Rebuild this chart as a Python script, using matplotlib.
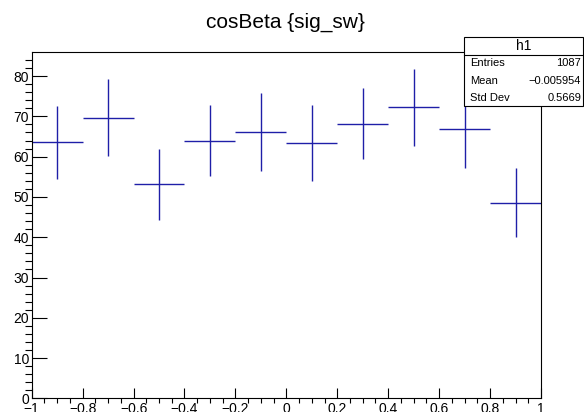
import numpy as np
import matplotlib
matplotlib.use('Agg')
import matplotlib.pyplot as plt
from matplotlib.patches import Rectangle
from matplotlib.lines import Line2D
from matplotlib.ticker import MultipleLocator

plt.rcParams['font.family'] = ['Liberation Sans', 'DejaVu Sans']

# weighted histogram of cosBeta, 10 bins in [-1, 1]
bin_edges = np.linspace(-1, 1, 11)
bin_contents = [63.55, 69.65, 53.1, 64.0, 66.1, 63.4, 68.2, 72.2, 66.8, 48.6]
bin_errors = [9.1, 9.6, 8.7, 8.9, 9.75, 9.45, 8.9, 9.6, 9.7, 8.6]

stat_names = ['Entries', 'Mean', 'Std Dev']
stat_values = ['1087', '\u22120.005954', '0.5669']
hist_name = 'h1'
title = 'cosBeta {sig_sw}'

W, H = 584, 412
fig = plt.figure(figsize=(W / 100, H / 100), dpi=100)
ax = fig.add_axes([31.7 / W, 1 - 398.4 / H, (541 - 31.7) / W, (398.4 - 52.3) / H])

centers = 0.5 * (bin_edges[:-1] + bin_edges[1:])
halfw = 0.5 * np.diff(bin_edges)
ax.errorbar(centers, bin_contents, xerr=halfw, yerr=bin_errors, fmt='none',
            ecolor='#1f1fa8', elinewidth=1.0, capsize=0)

ax.set_xlim(-1, 1)
ax.set_ylim(0, 85.9)

for s in ax.spines.values():
    s.set_linewidth(0.8)

ax.xaxis.set_major_locator(MultipleLocator(0.2))
ax.xaxis.set_minor_locator(MultipleLocator(0.05))
ax.yaxis.set_major_locator(MultipleLocator(10))
ax.yaxis.set_minor_locator(MultipleLocator(2))
ax.xaxis.set_major_formatter(plt.FuncFormatter(
    lambda v, p: ('%g' % round(v, 2)).replace('-', '\u2212')))

ax.tick_params(axis='both', direction='in', top=False, right=False,
               labelsize=10, width=0.8)
ax.tick_params(axis='x', which='major', length=7.2, pad=2.5)
ax.tick_params(axis='x', which='minor', length=3.6, width=0.8)
ax.tick_params(axis='y', which='major', length=10.8, pad=2)
ax.tick_params(axis='y', which='minor', length=5.4, width=0.8)

fig.text(285 / W, 1 - 22 / H, title, ha='center', va='center', fontsize=15)

# stats box
bx0, bx1 = 464 / W, 583 / W
by_top, by_bot = 1 - 37 / H, 1 - 106 / H
fig.patches.append(Rectangle((bx0, by_bot), bx1 - bx0, by_top - by_bot,
                             transform=fig.transFigure, facecolor='white',
                             edgecolor='black', linewidth=0.8, zorder=5))
fig.lines.append(Line2D([bx0, bx1], [1 - 55 / H, 1 - 55 / H],
                        transform=fig.transFigure, color='black',
                        linewidth=0.8, zorder=6))
fig.text((bx0 + bx1) / 2, 1 - 46 / H, hist_name, ha='center', va='center',
         fontsize=10, zorder=7)
for i, (n, v) in enumerate(zip(stat_names, stat_values)):
    y = 1 - (63.5 + 17.2 * i) / H
    fig.text(470 / W, y, n, ha='left', va='center', fontsize=8, zorder=7)
    fig.text(581 / W, y, v, ha='right', va='center', fontsize=8, zorder=7)

fig.savefig('out.png', dpi=100)
